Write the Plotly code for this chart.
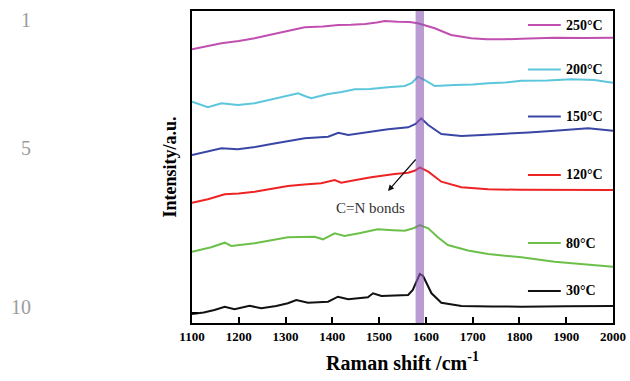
import plotly.graph_objects as go

# Raman spectra of the samples at different treatment temperatures (offset, arbitrary units)
shift_250 = [1100, 1130, 1163, 1200, 1234, 1270, 1306, 1341, 1380, 1413, 1440, 1470, 1495, 1512, 1540, 1565, 1583, 1600, 1619, 1654, 1697, 1730, 1768, 1820, 1875, 1940, 2000]
int_250 = [273.7, 276.5, 279.7, 282, 284.7, 288.5, 292.3, 295.7, 296.5, 298, 298.3, 299, 300.5, 302, 301.3, 301, 299.7, 297.5, 294.7, 288, 284.7, 283.8, 283.7, 284.5, 285.3, 285, 285.3]

shift_200 = [1100, 1134, 1163, 1198, 1234, 1270, 1300, 1327, 1341, 1355, 1391, 1420, 1448, 1480, 1519, 1555, 1570, 1583, 1597, 1619, 1662, 1700, 1733, 1770, 1804, 1860, 1911, 1960, 2000]
int_200 = [221.3, 215.7, 219.7, 218, 219.7, 223.7, 226.5, 229.7, 227, 224.7, 229, 231, 233.7, 234, 235.7, 237, 240, 246.3, 243, 237, 238, 238.5, 239.7, 240.5, 242.3, 242.5, 243.7, 243, 240.3]

shift_150 = [1100, 1134, 1163, 1198, 1235, 1270, 1305, 1341, 1391, 1413, 1434, 1480, 1519, 1562, 1578, 1590, 1605, 1633, 1676, 1720, 1768, 1820, 1875, 1947, 2000]
int_150 = [168, 171.3, 174.7, 173.7, 176, 179, 182, 184.7, 186.3, 190.3, 188, 191, 193.7, 195.7, 199, 204.7, 198, 189, 187, 188, 189, 190.5, 192.3, 194.7, 192.3]

shift_120 = [1100, 1134, 1170, 1200, 1234, 1270, 1305, 1340, 1376, 1405, 1419, 1450, 1483, 1533, 1562, 1577, 1587, 1605, 1633, 1676, 1733, 1800, 1875, 1940, 2000]
int_120 = [120.3, 123.7, 128.7, 129.5, 131.3, 134, 137, 138.5, 139.7, 143, 140.3, 143, 145.7, 149, 150.3, 152.5, 155.7, 151.3, 141.3, 135.7, 133.7, 133.2, 133, 133.3, 133]

shift_80 = [1100, 1141, 1170, 1184, 1234, 1270, 1305, 1362, 1380, 1405, 1426, 1460, 1497, 1530, 1555, 1575, 1587, 1605, 1625, 1647, 1690, 1733, 1804, 1875, 1947, 2000]
int_80 = [71.3, 75.7, 80.3, 77, 79.7, 82.5, 85.7, 86.3, 83.7, 89.7, 87, 90, 93.7, 92.8, 92.3, 95, 98, 94.7, 86, 78, 72.5, 69, 65.7, 61.3, 58, 56.3]

shift_30 = [1100, 1125, 1148, 1170, 1191, 1223, 1248, 1280, 1305, 1323, 1348, 1391, 1412, 1434, 1476, 1487, 1505, 1540, 1562, 1572, 1580, 1587, 1594, 1603, 1612, 1633, 1676, 1740, 1804, 1900, 2000]
int_30 = [9, 10.5, 13, 16.3, 13.7, 17.3, 14.7, 17, 19.7, 23, 20.3, 21.3, 26.3, 23.7, 25.7, 29.7, 27, 27.5, 28, 33, 42, 49, 47, 38, 29.7, 20.3, 17, 16.5, 16.3, 16.8, 17]

labels = ["250°C", "200°C", "150°C", "120°C", "80°C", "30°C"]
colors = ["#c04fb0", "#5cc6dc", "#3a46a6", "#ee2424", "#6cc04a", "#111111"]
series = [(shift_250, int_250), (shift_200, int_200), (shift_150, int_150),
          (shift_120, int_120), (shift_80, int_80), (shift_30, int_30)]

# legend entries placed next to each spectrum (paper coords of the short sample line)
legend_y = [0.955, 0.8125, 0.6619, 0.4744, 0.2564, 0.1026]

# C=N band region and arrow
band = [1578, 1596]
arrow_head = (1519, 132)
arrow_tail = (1581, 165)

fig = go.Figure()
for (xs, ys), name, col in zip(series, labels, colors):
    fig.add_trace(go.Scatter(x=xs, y=ys, mode="lines", name=name,
                             line=dict(color=col, width=2),
                             showlegend=False))

serif = "Liberation Serif"

# purple band marking the C=N vibration
fig.add_shape(type="rect", xref="x", yref="paper", x0=band[0], x1=band[1], y0=0, y1=1,
              fillcolor="rgba(140,90,180,0.6)", line=dict(width=0), layer="above")

for name, col, yp in zip(labels, colors, legend_y):
    fig.add_shape(type="line", xref="paper", yref="paper", x0=0.798, x1=0.876, y0=yp, y1=yp,
                  line=dict(color=col, width=2))
    fig.add_annotation(xref="paper", yref="paper", x=0.884, y=yp, text=name, showarrow=False,
                       xanchor="left", yanchor="middle",
                       font=dict(family=serif, size=14, color="black", weight="bold"))

fig.add_annotation(x=arrow_head[0], y=arrow_head[1], ax=arrow_tail[0], ay=arrow_tail[1],
                   xref="x", yref="y", axref="x", ayref="y", text="", showarrow=True,
                   arrowhead=2, arrowsize=1, arrowwidth=1.2, arrowcolor="#111111")
fig.add_annotation(x=1482, y=115, xref="x", yref="y", text="C=N bonds", showarrow=False,
                   font=dict(family=serif, size=15, color="#333333"))

# line numbers in the page margin
for txt, ypx in [("1", 20), ("5", 148), ("10", 307)]:
    fig.add_annotation(xref="paper", yref="paper", x=(33 - 192) / 421, y=(323 - ypx) / 312,
                       text=txt, showarrow=False, xanchor="right", yanchor="middle",
                       font=dict(family=serif, size=20, color="#9c9c9c"))

fig.update_layout(
    width=630, height=381,
    margin=dict(l=192, r=17, t=11, b=58, autoexpand=False),
    paper_bgcolor="white", plot_bgcolor="white",
    xaxis=dict(range=[1100, 2000], tickvals=list(range(1100, 2001, 100)),
               ticks="inside", ticklen=6, tickwidth=1.5, tickcolor="black",
               showline=True, linecolor="black", linewidth=2, mirror=True,
               showgrid=False, zeroline=False, automargin=False,
               tickfont=dict(family=serif, size=13, color="black", weight="bold"),
               title=dict(text="Raman shift /cm<sup>-1</sup>", standoff=13,
                          font=dict(family=serif, size=20, color="black", weight="bold"))),
    yaxis=dict(range=[0, 312], tickvals=[10], showticklabels=False,
               ticks="inside", ticklen=6, tickwidth=1.5, tickcolor="black",
               showline=True, linecolor="black", linewidth=2, mirror=True,
               showgrid=False, zeroline=False, automargin=False,
               title=dict(text="Intensity/a.u.", standoff=9,
                          font=dict(family=serif, size=18, color="black", weight="bold"))),
)

fig.write_html("out.html")
